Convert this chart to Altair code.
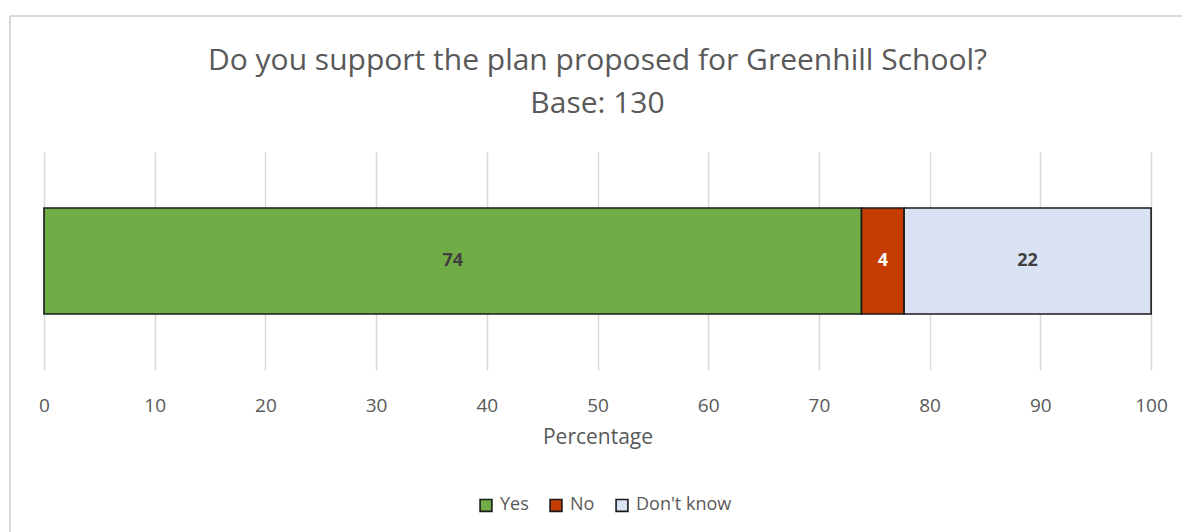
import altair as alt
import pandas as pd

answers = ["Yes", "No", "Don't know"]
values = [73.85, 3.85, 22.31]
orders = [1, 2, 3]
colors = ["#70AD47", "#C53C00", "#DAE3F3"]
ticks = [0, 10, 20, 30, 40, 50, 60, 70, 80, 90, 100]

df = pd.DataFrame({"answer": answers, "value": values, "order": orders, "row": ["Q"] * 3})

FONT = "Open Sans"
GREY = "#595959"

base = alt.Chart(df)

bars = base.mark_bar(stroke="#1a1a1a", strokeWidth=1.6).encode(
    x=alt.X(
        "value:Q",
        stack="zero",
        scale=alt.Scale(domain=[0, 100], nice=False),
        axis=alt.Axis(
            values=ticks,
            title="Percentage",
            grid=True,
            gridColor="#D9D9D9",
            gridWidth=1.5,
            domain=False,
            ticks=False,
            labelFlush=False,
            labelPadding=26,
            labelFont=FONT,
            labelFontSize=19,
            labelColor=GREY,
            titleFont=FONT,
            titleFontSize=21,
            titleFontWeight="normal",
            titleColor=GREY,
            titlePadding=11,
        ),
    ),
    y=alt.Y("row:N", axis=None, scale=alt.Scale(paddingInner=0, paddingOuter=0.528)),
    order=alt.Order("order:Q"),
    color=alt.Color(
        "answer:N",
        scale=alt.Scale(domain=answers, range=colors),
        legend=alt.Legend(
            title=None,
            orient="none",
            direction="horizontal",
            legendX=433,
            legendY=344,
            symbolType="square",
            symbolSize=140,
            symbolStrokeColor="#1a1a1a",
            symbolStrokeWidth=1.6,
            symbolOpacity=1,
            labelFont=FONT,
            labelFontSize=18,
            labelColor=GREY,
            labelOffset=5,
            columnPadding=17,
            padding=0,
        ),
    ),
)

labels = base.transform_window(
    cum="sum(value)", sort=[alt.SortField("order")], frame=[None, 0]
).transform_calculate(
    mid="datum.cum - datum.value / 2"
).mark_text(font=FONT, fontSize=18, fontWeight="bold").encode(
    x=alt.X("mid:Q"),
    y=alt.Y("row:N"),
    text=alt.Text("value:Q", format=".0f"),
    color=alt.condition(alt.datum.answer == "No", alt.value("white"), alt.value("#404040")),
)

frame_top = base.mark_rule(color="#D9D9D9", strokeWidth=2).encode(
    x=alt.value(-34), x2=alt.value(1200), y=alt.value(-136)
)
frame_left = base.mark_rule(color="#D9D9D9", strokeWidth=2).encode(
    x=alt.value(-34), y=alt.value(-136), y2=alt.value(400)
)

chart = alt.layer(frame_top, frame_left, bars, labels).properties(
    width=1107,
    height=218,
    padding={"left": 44, "top": 152, "right": 31, "bottom": 162},
    autosize=alt.AutoSizeParams(type="none"),
    title=alt.TitleParams(
        text=["Do you support the plan proposed for Greenhill School?", "Base: 130"],
        font=FONT,
        fontSize=30,
        fontWeight="normal",
        color=GREY,
        lineHeight=43,
        anchor="middle",
        offset=-104,
    ),
).configure(background="white", view=alt.ViewConfig(stroke=None))

chart.save("out.html", embed_options={"renderer": "svg", "actions": False})
